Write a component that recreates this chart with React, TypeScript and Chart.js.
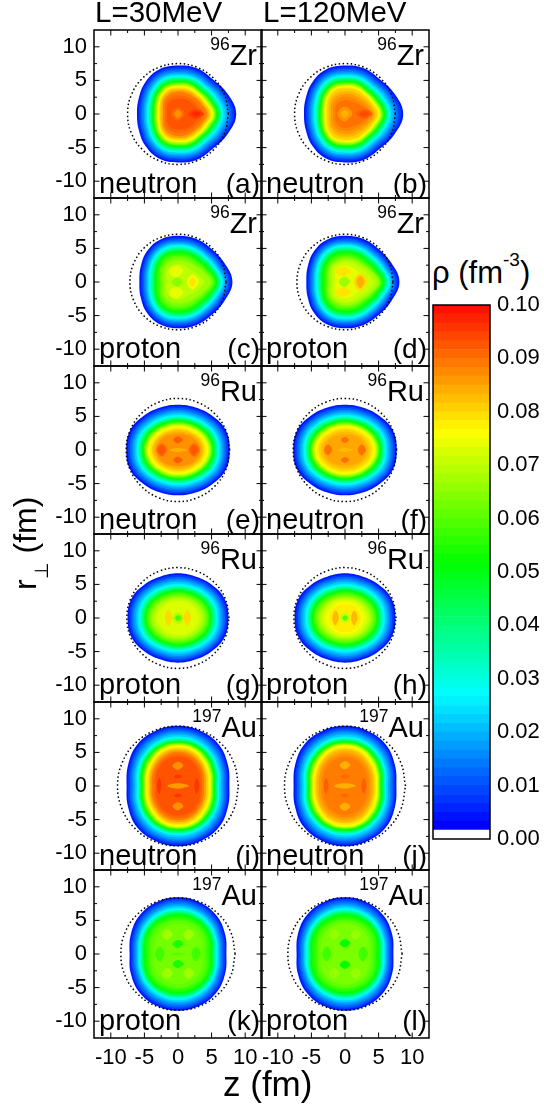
import React, { useEffect, useRef } from "react";
import { Chart, registerables } from "chart.js";

Chart.register(...registerables);

const FONT = '"Liberation Sans", Arial, sans-serif';

// contour radii (fm) are read at these polar angles, measured from +z towards +r_perp
const contourAngles = [0, 22.5, 45, 67.5, 90, 112.5, 135, 157.5, 180];

// each row: [colour value rho inside the contour, radius at each contour angle]
// rows with 5 radii stop at 90 degrees: the shape is the same on the -z side
const rimZrNeutron = [
  [0.004, 8.66, 7.95, 7.3, 7.35, 7.2, 7.2, 6.8, 6.3, 6.1],
  [0.0075, 8.33, 7.68, 7.05, 7.1, 6.95, 6.95, 6.55, 6.05, 5.85],
  [0.011, 8.0, 7.4, 6.8, 6.85, 6.7, 6.7, 6.3, 5.8, 5.6],
  [0.0145, 7.7, 7.12, 6.55, 6.6, 6.45, 6.45, 6.05, 5.55, 5.35],
  [0.018, 7.4, 6.85, 6.3, 6.35, 6.2, 6.2, 5.8, 5.3, 5.1],
  [0.0215, 7.1, 6.58, 6.08, 6.12, 5.98, 5.98, 5.58, 5.08, 4.88],
  [0.025, 6.8, 6.3, 5.85, 5.9, 5.75, 5.75, 5.35, 4.85, 4.65],
  [0.0285, 6.65, 6.15, 5.72, 5.78, 5.62, 5.62, 5.22, 4.72, 4.52],
  [0.032, 6.5, 6.0, 5.6, 5.65, 5.5, 5.5, 5.1, 4.6, 4.4],
  [0.0355, 6.4, 5.88, 5.48, 5.52, 5.38, 5.38, 4.98, 4.48, 4.28],
  [0.039, 6.3, 5.75, 5.35, 5.4, 5.25, 5.25, 4.85, 4.35, 4.15],
  [0.0425, 6.18, 5.62, 5.22, 5.28, 5.12, 5.12, 4.72, 4.22, 4.02],
  [0.046, 6.05, 5.5, 5.1, 5.15, 5.0, 5.0, 4.6, 4.1, 3.9],
  [0.0495, 5.95, 5.4, 5.0, 5.05, 4.9, 4.9, 4.5, 4.0, 3.8],
  [0.053, 5.85, 5.3, 4.9, 4.95, 4.8, 4.8, 4.4, 3.9, 3.7],
  [0.0565, 5.72, 5.18, 4.8, 4.85, 4.7, 4.7, 4.3, 3.8, 3.6],
  [0.06, 5.6, 5.05, 4.7, 4.75, 4.6, 4.6, 4.2, 3.7, 3.5],
  [0.0635, 5.5, 4.95, 4.6, 4.65, 4.5, 4.5, 4.1, 3.6, 3.4],
  [0.067, 5.4, 4.85, 4.5, 4.55, 4.4, 4.4, 4.0, 3.5, 3.3],
  [0.0705, 5.3, 4.72, 4.4, 4.42, 4.28, 4.28, 3.88, 3.38, 3.18],
  [0.074, 5.2, 4.6, 4.3, 4.3, 4.15, 4.15, 3.75, 3.25, 3.05],
  [0.0775, 5.0, 4.42, 4.12, 4.1, 3.98, 3.98, 3.58, 3.08, 2.88],
];
const rimZrProton = [
  [0.004, 8.1, 7.45, 7.0, 6.95, 6.88, 6.85, 6.5, 6.0, 5.75],
  [0.0075, 7.82, 7.18, 6.75, 6.7, 6.63, 6.6, 6.25, 5.75, 5.5],
  [0.011, 7.55, 6.9, 6.5, 6.45, 6.38, 6.35, 6.0, 5.5, 5.25],
  [0.0145, 7.32, 6.68, 6.28, 6.22, 6.15, 6.12, 5.78, 5.28, 5.02],
  [0.018, 7.1, 6.45, 6.05, 6.0, 5.93, 5.9, 5.55, 5.05, 4.8],
  [0.0215, 6.9, 6.25, 5.85, 5.8, 5.73, 5.7, 5.35, 4.85, 4.6],
  [0.025, 6.7, 6.05, 5.65, 5.6, 5.53, 5.5, 5.15, 4.65, 4.4],
  [0.0285, 6.55, 5.9, 5.5, 5.45, 5.38, 5.35, 5.0, 4.5, 4.25],
  [0.032, 6.4, 5.75, 5.35, 5.3, 5.23, 5.2, 4.85, 4.35, 4.1],
  [0.0355, 6.28, 5.62, 5.2, 5.15, 5.08, 5.05, 4.7, 4.2, 3.95],
  [0.039, 6.15, 5.5, 5.05, 5.0, 4.93, 4.9, 4.55, 4.05, 3.8],
  [0.0425, 6.02, 5.38, 4.92, 4.88, 4.8, 4.78, 4.42, 3.92, 3.68],
  [0.046, 5.9, 5.25, 4.8, 4.75, 4.68, 4.65, 4.3, 3.8, 3.55],
  [0.0495, 5.78, 5.1, 4.65, 4.6, 4.53, 4.5, 4.15, 3.65, 3.4],
  [0.053, 5.65, 4.95, 4.5, 4.45, 4.38, 4.35, 4.0, 3.5, 3.25],
  [0.0565, 5.48, 4.72, 4.25, 4.2, 4.13, 4.1, 3.75, 3.25, 3.0],
  [0.06, 5.3, 4.5, 4.0, 3.95, 3.88, 3.85, 3.5, 3.0, 2.75],
];
const rimRuNeutron = [
  [0.004, 7.7, 7.7, 7.2, 6.85, 6.75],
  [0.0075, 7.45, 7.42, 6.95, 6.6, 6.5],
  [0.011, 7.2, 7.15, 6.7, 6.35, 6.25],
  [0.0145, 6.95, 6.9, 6.45, 6.1, 6.0],
  [0.018, 6.7, 6.65, 6.2, 5.85, 5.75],
  [0.0215, 6.45, 6.4, 5.95, 5.6, 5.5],
  [0.025, 6.2, 6.15, 5.7, 5.35, 5.25],
  [0.0285, 6.05, 6.0, 5.55, 5.2, 5.1],
  [0.032, 5.9, 5.85, 5.4, 5.05, 4.95],
  [0.0355, 5.78, 5.7, 5.28, 4.92, 4.82],
  [0.039, 5.65, 5.55, 5.15, 4.8, 4.7],
  [0.0425, 5.55, 5.42, 5.02, 4.7, 4.6],
  [0.046, 5.45, 5.3, 4.9, 4.6, 4.5],
  [0.0495, 5.32, 5.18, 4.78, 4.48, 4.4],
  [0.053, 5.2, 5.05, 4.65, 4.35, 4.3],
  [0.0565, 5.1, 4.92, 4.52, 4.25, 4.18],
  [0.06, 5.0, 4.8, 4.4, 4.15, 4.05],
  [0.0635, 4.9, 4.7, 4.3, 4.05, 3.95],
  [0.067, 4.8, 4.6, 4.2, 3.95, 3.85],
  [0.0705, 4.65, 4.45, 4.08, 3.82, 3.72],
  [0.074, 4.5, 4.3, 3.95, 3.7, 3.6],
  [0.0775, 4.2, 4.0, 3.65, 3.42, 3.35],
];
const rimRuProton = [
  [0.004, 7.5, 7.5, 7.05, 6.7, 6.65],
  [0.0075, 7.25, 7.22, 6.8, 6.45, 6.4],
  [0.011, 7.0, 6.95, 6.55, 6.2, 6.15],
  [0.0145, 6.75, 6.7, 6.3, 5.95, 5.9],
  [0.018, 6.5, 6.45, 6.05, 5.7, 5.65],
  [0.0215, 6.22, 6.18, 5.8, 5.45, 5.38],
  [0.025, 5.95, 5.9, 5.55, 5.2, 5.1],
  [0.0285, 5.78, 5.72, 5.38, 5.02, 4.92],
  [0.032, 5.6, 5.55, 5.2, 4.85, 4.75],
  [0.0355, 5.45, 5.4, 5.05, 4.72, 4.62],
  [0.039, 5.3, 5.25, 4.9, 4.6, 4.5],
  [0.0425, 5.18, 5.1, 4.75, 4.45, 4.38],
  [0.046, 5.05, 4.95, 4.6, 4.3, 4.25],
  [0.0495, 4.92, 4.82, 4.48, 4.18, 4.12],
  [0.053, 4.8, 4.7, 4.35, 4.05, 4.0],
  [0.0565, 4.62, 4.5, 4.15, 3.88, 3.8],
  [0.06, 4.45, 4.3, 3.95, 3.7, 3.6],
  [0.0635, 4.18, 4.0, 3.7, 3.45, 3.35],
  [0.067, 3.9, 3.7, 3.45, 3.2, 3.1],
];
const rimAuNeutron = [
  [0.004, 7.65, 8.05, 8.65, 8.85, 8.95],
  [0.0075, 7.4, 7.8, 8.38, 8.6, 8.7],
  [0.011, 7.15, 7.55, 8.1, 8.35, 8.45],
  [0.0145, 6.9, 7.3, 7.82, 8.1, 8.2],
  [0.018, 6.65, 7.05, 7.55, 7.85, 7.95],
  [0.0215, 6.4, 6.8, 7.28, 7.58, 7.65],
  [0.025, 6.15, 6.55, 7.0, 7.3, 7.35],
  [0.0285, 6.02, 6.42, 6.88, 7.18, 7.22],
  [0.032, 5.9, 6.3, 6.75, 7.05, 7.1],
  [0.0355, 5.8, 6.2, 6.65, 6.95, 7.0],
  [0.039, 5.7, 6.1, 6.55, 6.85, 6.9],
  [0.0425, 5.62, 6.0, 6.45, 6.75, 6.8],
  [0.046, 5.55, 5.9, 6.35, 6.65, 6.7],
  [0.0495, 5.45, 5.8, 6.25, 6.55, 6.6],
  [0.053, 5.35, 5.7, 6.15, 6.45, 6.5],
  [0.0565, 5.25, 5.6, 6.05, 6.38, 6.42],
  [0.06, 5.15, 5.5, 5.95, 6.3, 6.35],
  [0.0635, 5.08, 5.4, 5.85, 6.22, 6.28],
  [0.067, 5.0, 5.3, 5.75, 6.15, 6.2],
  [0.0705, 4.9, 5.2, 5.62, 6.05, 6.12],
  [0.074, 4.8, 5.1, 5.5, 5.95, 6.05],
];
const rimAuProton = [
  [0.004, 7.2, 7.6, 8.1, 8.35, 8.45],
  [0.0075, 6.98, 7.35, 7.85, 8.1, 8.2],
  [0.011, 6.75, 7.1, 7.6, 7.85, 7.95],
  [0.0145, 6.52, 6.85, 7.32, 7.58, 7.68],
  [0.018, 6.3, 6.6, 7.05, 7.3, 7.4],
  [0.0215, 6.1, 6.4, 6.82, 7.05, 7.15],
  [0.025, 5.9, 6.2, 6.6, 6.8, 6.9],
  [0.0285, 5.75, 6.08, 6.45, 6.65, 6.72],
  [0.032, 5.6, 5.95, 6.3, 6.5, 6.55],
  [0.0355, 5.48, 5.82, 6.18, 6.38, 6.42],
  [0.039, 5.35, 5.7, 6.05, 6.25, 6.3],
  [0.0425, 5.25, 5.6, 5.95, 6.12, 6.18],
  [0.046, 5.15, 5.5, 5.85, 6.0, 6.05],
  [0.0495, 5.0, 5.35, 5.7, 5.82, 5.88],
  [0.053, 4.85, 5.2, 5.55, 5.65, 5.7],
];

// inner contours per panel
const coreA = [
  [0.081, 4.8, 4.25, 3.95, 3.9, 3.8, 3.8, 3.4, 2.9, 2.7],
  [0.0845, 4.55, 4.0, 3.7, 3.65, 3.55, 3.5, 3.15, 2.65, 2.45],
  [0.088, 4.3, 3.8, 3.45, 3.35, 3.3, 3.2, 2.9, 2.4, 2.2],
  [0.09, 3.75, 3.3, 3.0, 2.85, 2.8, 2.75, 2.5, 2.1, 1.9],
  [0.092, 3.2, 2.85, 2.6, 2.4, 2.3, 2.3, 2.1, 1.8, 1.6],
];
const coreB = [
  [0.08, 4.8, 4.25, 3.95, 3.9, 3.8, 3.8, 3.4, 2.9, 2.7],
  [0.0825, 4.5, 3.98, 3.58, 3.5, 3.4, 3.38, 3.05, 2.6, 2.4],
  [0.085, 4.2, 3.7, 3.2, 3.1, 3.0, 2.95, 2.7, 2.3, 2.1],
  [0.087, 3.9, 3.3, 2.75, 2.6, 2.55, 2.5, 2.25, 1.95, 1.75],
  [0.089, 3.6, 2.9, 2.3, 2.1, 2.1, 2.0, 1.8, 1.6, 1.4],
];
const coreC = [
  [0.063, 5.05, 4.25, 3.7, 3.6, 3.55, 3.5, 3.2, 2.7, 2.5],
  [0.066, 4.8, 4.0, 3.4, 3.25, 3.2, 3.1, 2.9, 2.4, 2.2],
  [0.069, 3.9, 3.15, 2.6, 2.6, 2.6, 2.5, 2.3, 1.9, 1.5],
];
const coreD = [
  [0.063, 5.15, 4.35, 3.8, 3.7, 3.65, 3.55, 3.3, 2.8, 2.55],
  [0.066, 5.0, 4.2, 3.6, 3.5, 3.45, 3.3, 3.1, 2.6, 2.3],
  [0.068, 4.6, 3.9, 3.3, 3.25, 3.2, 3.1, 2.85, 2.35, 2.05],
  [0.07, 4.2, 3.5, 3.05, 3.0, 3.0, 2.9, 2.6, 2.1, 1.8],
  [0.073, 3.2, 2.75, 2.4, 2.4, 2.4, 2.4, 2.0, 1.6, 1.4],
];
const coreE = [
  [0.081, 3.9, 3.7, 3.35, 3.15, 3.1],
  [0.0835, 3.6, 3.4, 3.08, 2.82, 2.75],
  [0.086, 3.3, 3.1, 2.8, 2.5, 2.4],
];
const coreF = [
  [0.08, 3.9, 3.7, 3.35, 3.15, 3.1],
  [0.082, 3.55, 3.35, 3.02, 2.78, 2.7],
  [0.084, 3.2, 3.0, 2.7, 2.4, 2.3],
];
const coreG = [
  [0.0695, 3.5, 3.32, 3.1, 2.9, 2.8],
  [0.072, 3.1, 2.95, 2.75, 2.6, 2.5],
];
const coreH = [
  [0.0695, 3.6, 3.42, 3.2, 3.0, 2.9],
  [0.072, 3.3, 3.15, 2.95, 2.8, 2.7],
  [0.074, 2.85, 2.72, 2.58, 2.48, 2.4],
  [0.077, 2.4, 2.3, 2.2, 2.15, 2.1],
];
const coreI = [
  [0.0775, 4.6, 4.88, 5.28, 5.72, 5.82],
  [0.081, 4.4, 4.65, 5.05, 5.5, 5.6],
  [0.0845, 4.15, 4.4, 4.8, 5.22, 5.35],
  [0.088, 3.9, 4.15, 4.55, 4.95, 5.1],
  [0.09, 3.6, 3.85, 4.25, 4.62, 4.75],
  [0.092, 3.3, 3.55, 3.95, 4.3, 4.4],
];
const coreJ = [
  [0.0775, 4.6, 4.85, 5.25, 5.7, 5.8],
  [0.081, 4.4, 4.6, 5.0, 5.45, 5.55],
  [0.083, 4.15, 4.35, 4.75, 5.15, 5.28],
  [0.085, 3.9, 4.1, 4.5, 4.85, 5.0],
  [0.0865, 3.6, 3.8, 4.18, 4.52, 4.65],
  [0.088, 3.3, 3.5, 3.85, 4.2, 4.3],
];
const coreK = [
  [0.055, 4.62, 4.98, 5.35, 5.42, 5.48],
  [0.057, 4.4, 4.75, 5.15, 5.2, 5.25],
  [0.0585, 4.15, 4.52, 4.95, 5.05, 5.1],
  [0.06, 3.9, 4.3, 4.75, 4.9, 4.95],
  [0.062, 3.5, 3.8, 4.25, 4.4, 4.5],
];
const coreL = [
  [0.055, 4.62, 4.98, 5.35, 5.42, 5.48],
  [0.057, 4.4, 4.75, 5.15, 5.2, 5.25],
  [0.0585, 4.15, 4.52, 4.95, 5.05, 5.1],
  [0.06, 3.9, 4.3, 4.75, 4.9, 4.95],
  [0.0625, 3.6, 3.9, 4.35, 4.5, 4.6],
];

// small local extrema: [z, r_perp, rho, half width in z, half width in r_perp]
const spotsA = [[0, 0, 0.09, 1.0, 1.0], [0, 0, 0.086, 0.6, 0.6], [2.7, 0, 0.094, 1.2, 0.7], [2.7, 0, 0.096, 0.7, 0.4]];
const spotsB = [[0, 0, 0.0855, 1.1, 1.1], [0, 0, 0.083, 0.6, 0.6], [2.9, 0, 0.091, 1.2, 0.7], [2.9, 0, 0.093, 0.7, 0.4]];
const spotsC = [[-0.3, 1.6, 0.073, 1.1, 0.9], [-0.3, -1.6, 0.073, 1.1, 0.9], [2.2, 0, 0.074, 0.9, 1.1], [2.2, 0, 0.078, 0.5, 0.7], [-0.1, 0, 0.064, 0.8, 0.7]];
const spotsD = [[-0.3, 1.55, 0.078, 1.2, 0.7], [-0.3, -1.55, 0.078, 1.2, 0.7], [2.3, 0, 0.079, 1.0, 1.3], [2.3, 0, 0.083, 0.6, 0.9], [-0.1, 0, 0.066, 0.8, 0.8]];
const spotsE = [[2.4, 0, 0.09, 0.8, 1.0], [-2.4, 0, 0.09, 0.8, 1.0], [2.4, 0, 0.092, 0.5, 0.7], [-2.4, 0, 0.092, 0.5, 0.7], [0, 1.5, 0.091, 0.7, 0.5], [0, -1.5, 0.091, 0.7, 0.5], [0, 0, 0.083, 1.3, 0.3]];
const spotsF = [[2.5, 0, 0.089, 0.6, 0.8], [-2.5, 0, 0.089, 0.6, 0.8], [0, 1.5, 0.089, 0.6, 0.45], [0, -1.5, 0.089, 0.6, 0.45], [0, 0, 0.082, 1.2, 0.3]];
const spotsG = [[1.4, 0, 0.079, 0.55, 1.2], [-1.4, 0, 0.079, 0.55, 1.2], [0, 0, 0.068, 0.85, 0.85], [0, 0, 0.058, 0.45, 0.45]];
const spotsH = [[1.4, 0, 0.082, 0.5, 1.1], [-1.4, 0, 0.082, 0.5, 1.1], [0, 0, 0.07, 0.8, 0.8], [0, 0, 0.058, 0.4, 0.4]];
const spotsI = [[2.8, 0, 0.095, 0.35, 1.2], [-2.8, 0, 0.095, 0.35, 1.2], [0, 3.0, 0.086, 0.8, 0.6], [0, -3.0, 0.086, 0.8, 0.6], [0, 1.4, 0.095, 0.6, 0.3], [0, -1.4, 0.095, 0.6, 0.3], [0, 0, 0.085, 1.6, 0.4]];
const spotsJ = [[2.8, 0, 0.091, 0.35, 1.2], [-2.8, 0, 0.091, 0.35, 1.2], [0, 3.1, 0.083, 0.8, 0.6], [0, -3.1, 0.083, 0.8, 0.6], [0, 1.4, 0.09, 0.6, 0.3], [0, -1.4, 0.09, 0.6, 0.3], [0, 0, 0.083, 1.6, 0.4]];
const spotsK = [[1.6, 2.9, 0.066, 0.8, 0.8], [-1.6, 2.9, 0.066, 0.8, 0.8], [1.6, -2.9, 0.066, 0.8, 0.8], [-1.6, -2.9, 0.066, 0.8, 0.8], [2.7, 0, 0.057, 0.7, 1.1], [-2.7, 0, 0.057, 0.7, 1.1], [0, 1.5, 0.053, 0.8, 0.6], [0, -1.5, 0.053, 0.8, 0.6], [0, 0, 0.059, 1.2, 0.2]];
const spotsL = [[1.6, 2.9, 0.065, 0.8, 0.8], [-1.6, 2.9, 0.065, 0.8, 0.8], [1.6, -2.9, 0.065, 0.8, 0.8], [-1.6, -2.9, 0.065, 0.8, 0.8], [2.7, 0, 0.057, 0.7, 1.1], [-2.7, 0, 0.057, 0.7, 1.1], [0, 1.6, 0.051, 0.8, 0.6], [0, -1.6, 0.051, 0.8, 0.6]];

// dotted reference contours (fm)
const ringZrNeutron = [7.5, 7.5, 7.5, 7.5, 7.5, 7.5, 7.5, 7.5, 7.5];
const ringZrProton = [7.15, 7.15, 7.15, 7.12, 7.1, 7.12, 7.15, 7.15, 7.15];
const ringRuNeutron = [7.7, 7.7, 7.68, 7.67, 7.67, 7.67, 7.68, 7.7, 7.7];
const ringRuProton = [7.6, 7.6, 7.55, 7.5, 7.5, 7.5, 7.55, 7.6, 7.6];
const ringAuNeutron = [9, 9, 9, 8.95, 8.9, 8.95, 9, 9, 9];
const ringAuProton = [8.5, 8.5, 8.45, 8.4, 8.35, 8.4, 8.45, 8.5, 8.5];

const panelRims = [rimZrNeutron, rimZrNeutron, rimZrProton, rimZrProton, rimRuNeutron, rimRuNeutron, rimRuProton, rimRuProton, rimAuNeutron, rimAuNeutron, rimAuProton, rimAuProton];
const panelCores = [coreA, coreB, coreC, coreD, coreE, coreF, coreG, coreH, coreI, coreJ, coreK, coreL];
const panelSpots = [spotsA, spotsB, spotsC, spotsD, spotsE, spotsF, spotsG, spotsH, spotsI, spotsJ, spotsK, spotsL];
const panelRings = [ringZrNeutron, ringZrNeutron, ringZrProton, ringZrProton, ringRuNeutron, ringRuNeutron, ringRuProton, ringRuProton, ringAuNeutron, ringAuNeutron, ringAuProton, ringAuProton];

const massNumbers = ["96", "96", "96", "96", "96", "96", "96", "96", "197", "197", "197", "197"];
const elementNames = ["Zr", "Zr", "Zr", "Zr", "Ru", "Ru", "Ru", "Ru", "Au", "Au", "Au", "Au"];
const speciesNames = ["neutron", "neutron", "proton", "proton", "neutron", "neutron", "proton", "proton", "neutron", "neutron", "proton", "proton"];
const panelLetters = ["(a)", "(b)", "(c)", "(d)", "(e)", "(f)", "(g)", "(h)", "(i)", "(j)", "(k)", "(l)"];

const colorbarMax = 0.1;
const colorbarBandCount = 60;

const COL_X = [94, 261];
const ROW_Y = [30, 198, 366, 534, 702, 870];
const PANEL = 168;

function rhoColor(v: number) {
  const hue = 240 * (1 - (v - 0.00167) / 0.0983);
  return `hsl(${Math.max(0, Math.min(240, hue))}, 100%, 50%)`;
}

function polarPoint(radius: number, deg: number, sign: number) {
  const a = (deg * Math.PI) / 180;
  return { x: radius * Math.cos(a), y: sign * radius * Math.sin(a) };
}

function closedCurve(radii: number[], overlap: boolean) {
  const pts = contourAngles.map((d, i) => polarPoint(radii[i], d, 1));
  for (let i = contourAngles.length - 2; i >= 0; i--) pts.push(polarPoint(radii[i], contourAngles[i], -1));
  if (overlap) {
    pts.unshift(polarPoint(radii[1], contourAngles[1], -1));
    pts.push(polarPoint(radii[1], contourAngles[1], 1));
  }
  return pts;
}

function rowRadii(row: number[]) {
  const r = row.slice(1);
  return r.length === 5 ? [...r, r[3], r[2], r[1], r[0]] : r;
}

function spotCurve([z, r, , hz, hr]: number[]) {
  const e = { x: z + hz, y: r };
  const n = { x: z, y: r + hr };
  const w = { x: z - hz, y: r };
  const s = { x: z, y: r - hr };
  return [s, e, n, w, s, e];
}

function filled(data: { x: number; y: number }[], rho: number) {
  return {
    data,
    showLine: true,
    fill: "shape",
    backgroundColor: rhoColor(rho),
    borderWidth: 0,
    borderColor: "rgba(0,0,0,0)",
    pointRadius: 0,
    tension: 0.4,
  };
}

function panelDatasets(i: number) {
  const contours = [...panelRims[i], ...panelCores[i]].map((row) => filled(closedCurve(rowRadii(row), true), row[0]));
  const spots = panelSpots[i].map((s) => filled(spotCurve(s), s[2]));
  const ring = {
    data: closedCurve(panelRings[i], false),
    showLine: true,
    fill: false,
    borderColor: "#000",
    borderWidth: 1.5,
    borderDash: [1.5, 2.5],
    pointRadius: 0,
    tension: 0.4,
  };
  return [ring, ...[...contours, ...spots].reverse()];
}

function text(ctx: any, s: string, x: number, y: number, size: number, align: CanvasTextAlign) {
  ctx.font = `${size}px ${FONT}`;
  ctx.textAlign = align;
  ctx.textBaseline = "alphabetic";
  ctx.fillStyle = "#000";
  ctx.fillText(s, x, y);
}

function panelOverlay(i: number) {
  return {
    id: "panelOverlay",
    afterDatasetsDraw(chart: any) {
      const { ctx, chartArea: a, scales } = chart;
      ctx.save();
      ctx.strokeStyle = "#000";
      ctx.lineWidth = 1;
      ctx.beginPath();
      for (const t of scales.x.ticks) {
        if (Math.abs(t.value) > 12) continue;
        const p = scales.x.getPixelForValue(t.value);
        const len = t.value % 5 === 0 ? 5.5 : 3;
        ctx.moveTo(p, a.top);
        ctx.lineTo(p, a.top + len);
        ctx.moveTo(p, a.bottom);
        ctx.lineTo(p, a.bottom - len);
      }
      for (const t of scales.y.ticks) {
        if (Math.abs(t.value) > 12) continue;
        const p = scales.y.getPixelForValue(t.value);
        const len = t.value % 5 === 0 ? 5.5 : 3;
        ctx.moveTo(a.left, p);
        ctx.lineTo(a.left + len, p);
        ctx.moveTo(a.right, p);
        ctx.lineTo(a.right - len, p);
      }
      ctx.stroke();
      ctx.lineWidth = 1.5;
      ctx.strokeRect(a.left, a.top, a.right - a.left, a.bottom - a.top);
      const species = speciesNames[i];
      const base = a.top + (species === "neutron" ? 162.5 : 160);
      const elementRight = a.right - 5;
      ctx.font = `29px ${FONT}`;
      const elementWidth = ctx.measureText(elementNames[i]).width;
      text(ctx, elementNames[i], elementRight, a.top + 34.5, 29, "right");
      text(ctx, massNumbers[i], elementRight - elementWidth, a.top + 19.5, 17.5, "right");
      text(ctx, species, a.left + 5, base, 29, "left");
      text(ctx, panelLetters[i], a.right - 2, base, 28, "right");
      ctx.restore();
    },
  };
}

function clearScalePadding(s: any) {
  s.paddingLeft = 0;
  s.paddingRight = 0;
  s.paddingTop = 0;
  s.paddingBottom = 0;
}

function Panel({ index }: { index: number }) {
  const ref = useRef<HTMLCanvasElement>(null);
  const col = index % 2;
  const row = Math.floor(index / 2);
  const ml = col === 0 ? 46 : 2;
  const mr = 2;
  const mt = 2;
  const mb = row === 5 ? 38 : 2;
  useEffect(() => {
    const labelCallback = (v: any) => (Math.abs(v % 5) < 1e-6 ? String(v) : "");
    const makeScale = (showLabels: boolean, fit: (s: any) => void) => ({
      type: "linear",
      min: -12.5,
      max: 12.5,
      grid: { display: false, drawTicks: false },
      border: { display: false },
      afterFit: (s: any) => { fit(s); clearScalePadding(s); },
      ticks: {
        display: showLabels,
        stepSize: 2.5,
        autoSkip: false,
        maxRotation: 0,
        padding: 7,
        color: "#000",
        font: { family: FONT, size: 22 },
        callback: labelCallback,
      },
    });
    const chart = new Chart(ref.current as any, {
      type: "scatter",
      data: { datasets: panelDatasets(index) as any },
      options: {
        responsive: false,
        maintainAspectRatio: false,
        animation: false,
        events: [],
        layout: { padding: { top: mt, right: mr, left: 0, bottom: 0 } },
        plugins: { legend: { display: false }, tooltip: { enabled: false } },
        scales: {
          x: makeScale(row === 5, (s: any) => { s.height = mb; }),
          y: makeScale(col === 0, (s: any) => { s.width = ml; }),
        },
      } as any,
      plugins: [panelOverlay(index)],
    });
    return () => chart.destroy();
  }, []);
  return (
    <canvas
      ref={ref}
      width={ml + PANEL + mr}
      height={mt + PANEL + mb}
      style={{
        position: "absolute",
        left: COL_X[col] - ml,
        top: ROW_Y[row] - mt,
        width: ml + PANEL + mr,
        height: mt + PANEL + mb,
      }}
    />
  );
}

function Colorbar() {
  const ref = useRef<HTMLCanvasElement>(null);
  useEffect(() => {
    const datasets = [];
    for (let i = 0; i < colorbarBandCount; i++) {
      const lo = (i / colorbarBandCount) * colorbarMax;
      const hi = ((i + 1) / colorbarBandCount) * colorbarMax;
      datasets.push({
        data: [[lo, hi]],
        backgroundColor: i === 0 ? "#fff" : rhoColor(lo),
        barPercentage: 1,
        categoryPercentage: 1,
        grouped: false,
      });
    }
    const frame = {
      id: "frame",
      afterDatasetsDraw(chart: any) {
        const { ctx, chartArea: a } = chart;
        ctx.save();
        ctx.strokeStyle = "#000";
        ctx.lineWidth = 1.5;
        ctx.strokeRect(a.left, a.top, a.right - a.left, a.bottom - a.top);
        ctx.restore();
      },
    };
    const chart = new Chart(ref.current as any, {
      type: "bar",
      data: { labels: ["rho"], datasets: datasets as any },
      plugins: [frame],
      options: {
        responsive: false,
        maintainAspectRatio: false,
        animation: false,
        events: [],
        layout: { padding: { top: 14, bottom: 15, left: 2, right: 0 } },
        plugins: { legend: { display: false }, tooltip: { enabled: false } },
        scales: {
          x: { display: false },
          y: {
            position: "right",
            min: 0,
            max: colorbarMax,
            grid: { display: false, drawTicks: false },
            border: { display: false },
            afterFit: (s: any) => { s.width = 55; clearScalePadding(s); },
            ticks: {
              stepSize: 0.01,
              padding: 7,
              color: "#000",
              font: { family: FONT, size: 22 },
              callback: (v: any) => Number(v).toFixed(2),
            },
          },
        },
      } as any,
    });
    return () => chart.destroy();
  }, []);
  return (
    <canvas
      ref={ref}
      width={114}
      height={563}
      style={{ position: "absolute", left: 430.5, top: 290.5, width: 114, height: 563 }}
    />
  );
}

function Label({ x, y, size, children }: { x: number; y: number; size: number; children: React.ReactNode }) {
  return (
    <div
      style={{
        position: "absolute",
        left: x,
        top: y - 0.905 * size,
        fontFamily: FONT,
        fontSize: size,
        lineHeight: "normal",
        whiteSpace: "nowrap",
        color: "#000",
      }}
    >
      {children}
    </div>
  );
}

export default function App() {
  return (
    <div style={{ position: "absolute", left: 0, top: 0, width: 544, height: 1105, overflow: "hidden", background: "#fff" }}>
      {panelRims.map((_, i) => (
        <Panel key={i} index={i} />
      ))}
      <Colorbar />
      <Label x={95} y={22} size={29.5}>L=30MeV</Label>
      <Label x={263} y={22} size={29.5}>L=120MeV</Label>
      <Label x={223} y={1095.5} size={35}>z (fm)</Label>
      <Label x={432} y={283} size={31}>
        ρ (fm<span style={{ fontSize: 19, position: "relative", top: -17 }}>-3</span>)
      </Label>
      <div
        style={{
          position: "absolute",
          left: 7,
          top: 590,
          transform: "rotate(-90deg)",
          transformOrigin: "0 0",
          fontFamily: FONT,
          fontSize: 32,
          lineHeight: "normal",
          whiteSpace: "nowrap",
          color: "#000",
        }}
      >
        r<span style={{ fontSize: 19, position: "relative", top: 12 }}>⊥</span> (fm)
      </div>
    </div>
  );
}
